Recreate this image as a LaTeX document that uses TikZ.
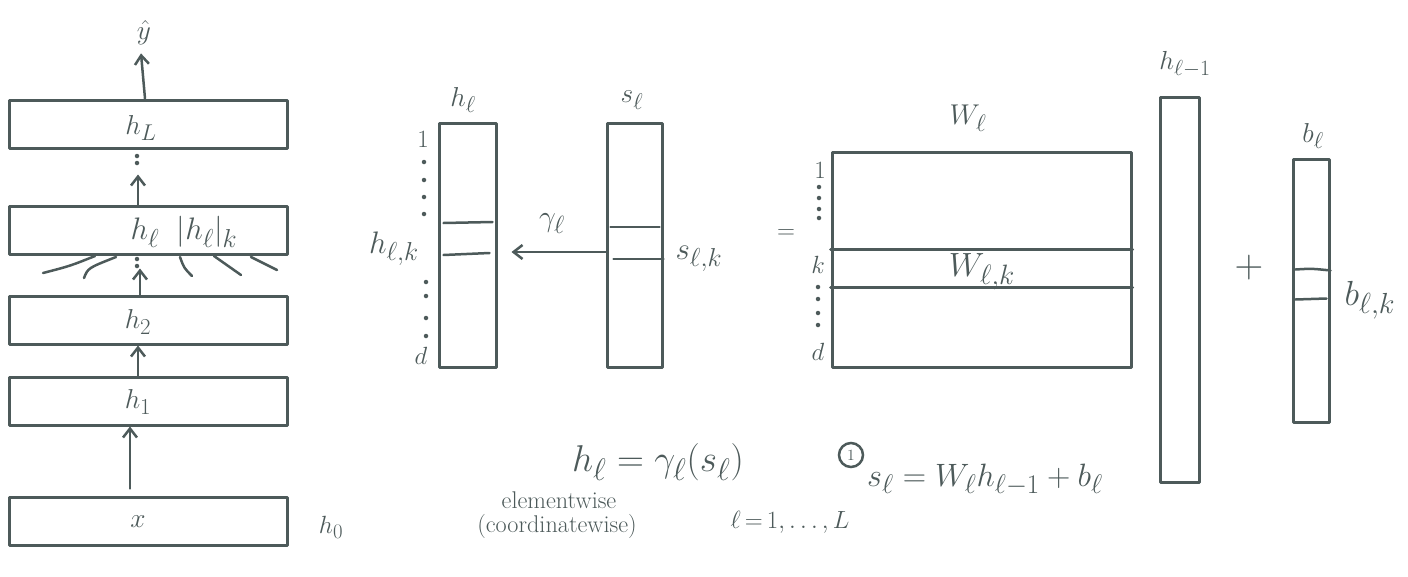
\documentclass[tikz,border=0pt]{standalone}
\usetikzlibrary{arrows.meta}
\definecolor{ink}{RGB}{77,90,90}
\begin{document}
\begin{tikzpicture}[x=1pt,y=-1pt,
  every node/.style={text=ink,font=\Huge},
  pen/.style={draw=ink,line width=3pt,line cap=round,line join=round},
  thin pen/.style={draw=ink,line width=2.5pt,line cap=round},
  layer/.style={pen,rectangle,minimum width=278pt,minimum height=48pt,inner sep=0pt},
  vecbox/.style={pen,rectangle,inner sep=0pt},
  up/.style={thin pen,-{Straight Barb[length=9pt,width=14pt,line width=2.5pt]}},
  dotty/.style={fill=ink,circle,inner sep=0pt,minimum size=4.5pt},
  lbl/.style={inner sep=0pt},
  note/.style={inner sep=0pt,font=\LARGE,scale=1.4}]
\useasboundingbox (0,0) rectangle (1408,576);

% ---------- left stack ----------
\node[layer] (hL) at (148,124) {};
\node[layer] (hl) at (148,230) {};
\node[layer] (h2) at (148,320) {};
\node[layer] (h1) at (148,401) {};
\node[layer] (x)  at (148,521) {};
\node[lbl,scale=1.1] at (141,128) {$h_L$};
\node[lbl,scale=1.25] at (184,232) {$h_\ell\;\;|h_\ell|_k$};
\node[lbl,scale=1.1] at (138,322) {$h_2$};
\node[lbl,scale=1.1] at (138,402) {$h_1$};
\node[lbl,scale=1.1] at (138,522) {$x$};
\node[lbl] (h0) at (331,527) {$h_0$};
\node[lbl,scale=1.1] (yhat) at (144,33) {$\hat{y}$};

\draw[up] ([xshift=-18pt]x.north) ++(0,-7) coordinate (a1) (a1) -- ([xshift=-18pt]h1.south);
\draw[up] ([xshift=-10pt]h1.north) -- ([xshift=-10pt]h2.south);
\draw[up] ([xshift=-8pt]h2.north) -- ++(0,-26);
\draw[up] ([xshift=-10pt]hl.north) -- ++(0,-30);
\draw[up] ([xshift=-3pt]hL.north) -- ([xshift=-3pt,yshift=-8pt]yhat.south);
% dots
\node[dotty] at (137,259) {}; \node[dotty] at (137,266) {};
\node[dotty] at (137,156) {}; \node[dotty] at (137,163) {};
% fan lines
\draw[thin pen] (43,273) .. controls (70,266) .. (95,256);
\draw[thin pen] (84,278) .. controls (88,268) .. (116,257);
\draw[thin pen] (180,257) .. controls (184,268) .. (192,276);
\draw[thin pen] (214,256) -- (241,275);
\draw[thin pen] (251,257) -- (277,270);

% ---------- h_l and s_l vectors ----------
\node[vecbox,minimum width=57pt,minimum height=244pt] (hv) at (467.5,245) {};
\node[lbl,scale=1.1] at (463,100) {$h_\ell$};
\draw[thin pen] ([shift={(6,-22)}]hv.west) -- ([shift={(-5,-23)}]hv.east);
\draw[thin pen] ([shift={(6,10)}]hv.west) -- ([shift={(-8,8)}]hv.east);
\node[lbl] at (423,139) {1};
\foreach \yy in {162,180,197,214} \node[dotty] at (424,\yy) {};
\node[lbl,scale=1.25] at (394,249) {$h_{\ell,k}$};
\foreach \yy in {282,296,318,336} \node[dotty] at (426,\yy) {};
\node[lbl] at (421,356) {$d$};

\node[vecbox,minimum width=55pt,minimum height=244pt] (sv) at (634.5,245) {};
\node[lbl,scale=1.1] at (632,100) {$s_\ell$};
\draw[thin pen] ([shift={(5,-18)}]sv.west) -- ([shift={(-4,-18)}]sv.east);
\draw[thin pen] ([shift={(8,14)}]sv.west) -- ([shift={(0,14)}]sv.east);
\node[lbl,scale=1.25] at (699,259) {$s_{\ell,k}$};
\coordinate (sk) at ([yshift=-7pt]sv.west);
\coordinate (hk) at ([xshift=14pt,yshift=-7pt]hv.east);
\draw[thin pen,-{Straight Barb[length=9pt,width=14pt,line width=2.5pt]}] (sk) -- (hk);
\node[lbl,scale=1.2] at (552,224) {$\gamma_\ell$};

\node[lbl] at (786,234) {$=$};

% ---------- W_l ----------
\node[vecbox,minimum width=299pt,minimum height=215pt] (W) at (981.5,259.5) {};
\node[lbl,scale=1.15] at (968,118) {$W_\ell$};
\draw[pen] (W.west |- 0,249) -- (W.east |- 0,249);
\draw[pen] (W.west |- 0,287) -- (W.east |- 0,287);
\node[lbl,scale=1.35] at (982,272) {$W_{\ell,k}$};
\node[lbl] at (820,170) {1};
\foreach \yy in {187,198,209,218} \node[dotty] at (819,\yy) {};
\node[lbl] at (818,265) {$k$};
\foreach \yy in {287,299,313,325} \node[dotty] at (818,\yy) {};
\node[lbl] at (818,352) {$d$};

% ---------- h_{l-1}, b_l ----------
\node[vecbox,minimum width=39pt,minimum height=385pt] (hp) at (1179.5,289.5) {};
\node[lbl,scale=1.05] at (1185,64) {$h_{\ell-1}$};
\node[lbl,scale=1.6] at (1249,268) {$+$};
\node[vecbox,minimum width=36pt,minimum height=263pt] (bv) at (1311,290.5) {};
\node[lbl,scale=1.1] at (1313,136) {$b_\ell$};
\draw[thin pen] ([shift={(4,-21)}]bv.west) .. controls ([shift={(20,-22)}]bv.west) .. ([shift={(0,-20)}]bv.east);
\draw[thin pen] ([shift={(4,9)}]bv.west) -- ([shift={(-4,8)}]bv.east);
\node[lbl,scale=1.4] at (1370,300) {$b_{\ell,k}$};

% ---------- equations ----------
\node[lbl,scale=1.5] at (658,462) {$h_\ell=\gamma_\ell(s_\ell)$};
\node[note] at (559,500) {elementwise};
\node[note] at (557,526) {(coordinatewise)};
\node[lbl] at (790,522) {$\ell\,{=}\,1,\ldots,L$};
\draw[thin pen] (851,455) circle (12pt);
\node[lbl,scale=1.3] at (851,455) {\large 1};
\node[lbl,scale=1.3] at (985,480) {$s_\ell=W_\ell h_{\ell-1}+b_\ell$};
\end{tikzpicture}
\end{document}
